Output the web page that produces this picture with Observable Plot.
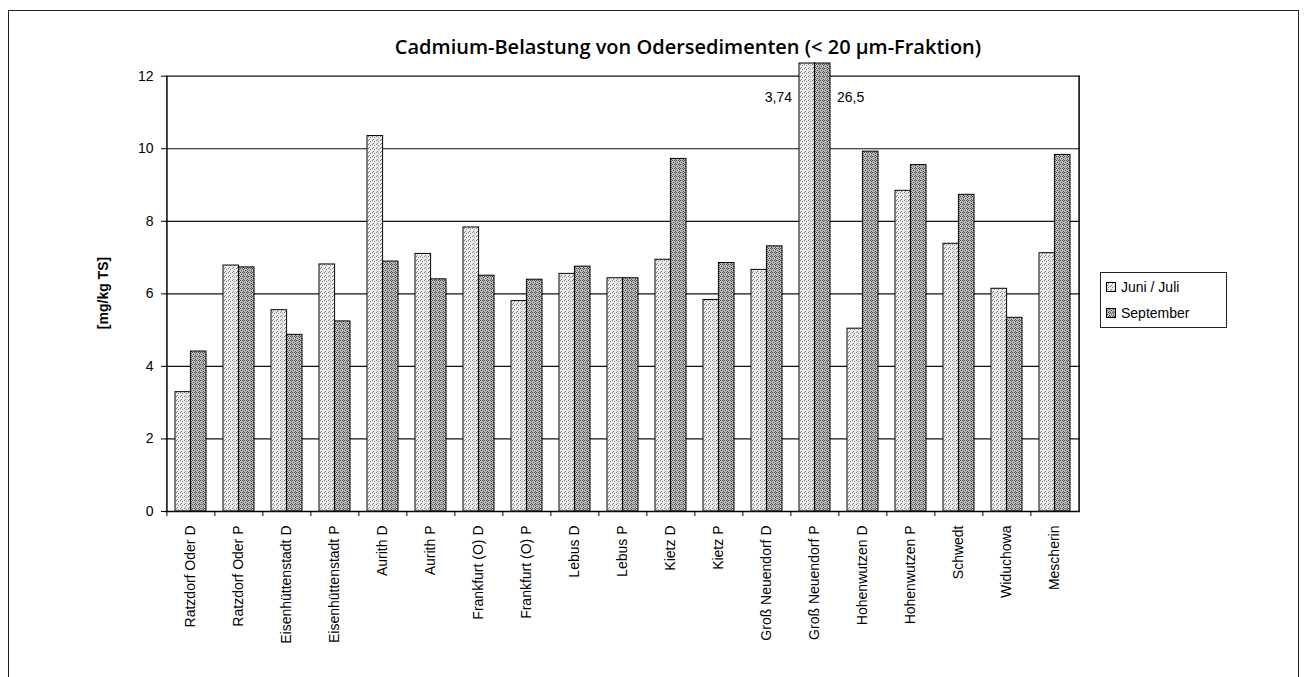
<!DOCTYPE html>
<html>
<head>
<meta charset="utf-8">
<script src="https://cdn.jsdelivr.net/npm/d3@7"></script>
<script src="https://cdn.jsdelivr.net/npm/@observablehq/plot@0.6"></script>
<style>
  body { margin: 0; background: #fff; }
  #wrap { position: relative; width: 1307px; height: 677px; overflow: hidden; font-family: "Liberation Sans", Arial, sans-serif; color: #000; }
  #frame { position: absolute; left: 8px; top: 10px; width: 1289px; height: 720px; border: 1px solid #222; border-bottom: none; }
  #title { position: absolute; left: 0; width: 1376px; top: 33px; text-align: center; font-family: "Open Sans", sans-serif; font-weight: 600; font-size: 20px; white-space: nowrap; }
  #chart { position: absolute; left: 0; top: 0; }
  #ylabel { position: absolute; left: 103px; top: 293px; transform: translate(-50%, -50%) rotate(-90deg); font-weight: bold; font-size: 14px; white-space: nowrap; }
  #legend { position: absolute; left: 1100px; top: 272px; width: 127px; height: 56px; border: 1px solid #222; box-sizing: border-box; font-size: 14px; padding-top: 1px; }
  .item { display: flex; align-items: center; height: 26px; padding-left: 5px; }
  .item svg { margin-right: 5px; }
</style>
</head>
<body>
<div id="wrap">
  <div id="frame"></div>
  <div id="title">Cadmium-Belastung von Odersedimenten (&lt; 20 µm-Fraktion)</div>
  <div id="chart"></div>
  <div id="ylabel">[mg/kg TS]</div>
  <div id="legend"></div>
</div>
<script>
// ---- data ----
const categories = [
  "Ratzdorf Oder D", "Ratzdorf Oder P", "Eisenhüttenstadt D", "Eisenhüttenstadt P",
  "Aurith D", "Aurith P", "Frankfurt (O) D", "Frankfurt (O) P", "Lebus D", "Lebus P",
  "Kietz D", "Kietz P", "Groß Neuendorf D", "Groß Neuendorf P", "Hohenwutzen D",
  "Hohenwutzen P", "Schwedt", "Widuchowa", "Mescherin"
];
const juniJuli = [3.29, 6.78, 5.55, 6.81, 10.35, 7.10, 7.83, 5.80, 6.55, 6.43, 6.94, 5.83, 6.66, 13.74, 5.04, 8.84, 7.38, 6.14, 7.12];
const september = [4.41, 6.73, 4.87, 5.24, 6.89, 6.40, 6.50, 6.39, 6.75, 6.43, 9.72, 6.85, 7.31, 26.5, 9.92, 9.55, 8.73, 5.34, 9.83];
const seriesNames = ["Juni / Juli", "September"];
const yTicks = [0, 2, 4, 6, 8, 10, 12];
const overflowCategory = "Groß Neuendorf P";
const overflowLabels = ["3,74", "26,5"];

const table = categories.map((c, i) => ({cat: c, juni: juniJuli[i], sep: september[i]}));

const halfStep = 915 / categories.length / 2;

const chart = Plot.plot({
  width: 1100,
  height: 677,
  marginLeft: 165,
  marginRight: 20,
  marginTop: 63,
  marginBottom: 166,
  style: {fontFamily: "'Liberation Sans', Arial, sans-serif", fontSize: "14px", color: "#000", background: "transparent"},
  x: {domain: categories, paddingInner: 0.36, paddingOuter: 0.18, label: null},
  y: {domain: [0, 12.35], clamp: true, label: null},
  marks: [
    Plot.ruleY(yTicks.filter(t => t > 0), {stroke: "#111", strokeWidth: 1.2}),
    Plot.barY(table, {x: "cat", y: "juni", fill: "url(#pJuni)", stroke: "#000", strokeWidth: 1, insetRight: 15.4}),
    Plot.barY(table, {x: "cat", y: "sep", fill: "url(#pSep)", stroke: "#000", strokeWidth: 1, insetLeft: 15.4}),
    Plot.ruleY([0], {stroke: "#000", strokeWidth: 1.5}),
    Plot.ruleX([categories[0]], {x: d => d, dx: -halfStep, y1: 0, y2: 12, stroke: "#000", strokeWidth: 1.5}),
    Plot.ruleX([categories[categories.length - 1]], {x: d => d, dx: halfStep, y1: 0, y2: 12, stroke: "#000", strokeWidth: 1.5}),
    Plot.axisY({ticks: yTicks, tickSize: 4, tickPadding: 8, fontSize: 14, label: null}),
    Plot.axisX({tickSize: 5, tickFormat: () => "", dx: -halfStep, label: null}),
    Plot.axisX({tickSize: 0, tickRotate: -90, tickPadding: 14, fontSize: 14, label: null}),
    Plot.text([overflowLabels[0]], {x: () => overflowCategory, frameAnchor: "top", dy: 29, dx: -23, textAnchor: "end", fontSize: 14}),
    Plot.text([overflowLabels[1]], {x: () => overflowCategory, frameAnchor: "top", dy: 29, dx: 22, textAnchor: "start", fontSize: 14})
  ]
});

// stipple patterns
const defs = d3.select(chart).insert("defs", ":first-child");
function addPattern(id, bg, dot, dots) {
  const p = defs.append("pattern").attr("id", id).attr("patternUnits", "userSpaceOnUse").attr("width", 4).attr("height", 4);
  p.append("rect").attr("width", 4).attr("height", 4).attr("fill", bg);
  dots.forEach(([x, y]) => p.append("rect").attr("x", x).attr("y", y).attr("width", 1).attr("height", 1).attr("fill", dot));
}
addPattern("pJuni", "#ebebeb", "#808080", [[0, 0], [2, 1], [1, 3]]);
addPattern("pSep", "#bcbcbc", "#505050", [[0, 0], [2, 0], [1, 2], [3, 1], [3, 3]]);

document.getElementById("chart").appendChild(chart);

// legend
const legend = d3.select("#legend");
[["pJuni", seriesNames[0]], ["pSep", seriesNames[1]]].forEach(([pid, name]) => {
  const it = legend.append("div").attr("class", "item");
  const s = it.append("svg").attr("width", 10).attr("height", 10);
  s.append("rect").attr("x", 0.5).attr("y", 0.5).attr("width", 9).attr("height", 9).attr("fill", `url(#${pid})`).attr("stroke", "#000");
  it.append("span").text(name);
});
</script>
</body>
</html>
